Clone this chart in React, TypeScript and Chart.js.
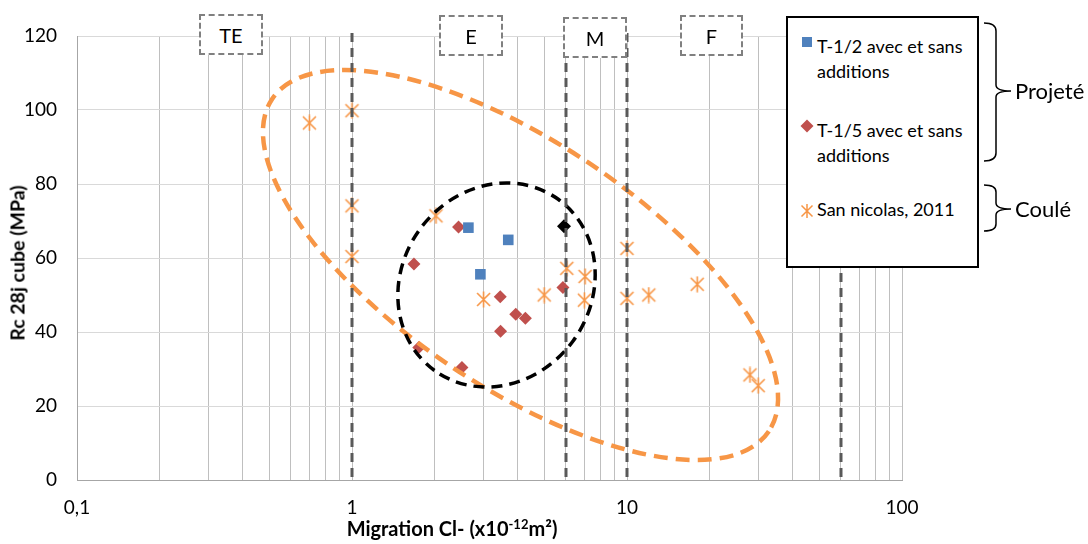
import React, { useEffect, useRef } from "react";
import { Chart, registerables } from "chart.js";

Chart.register(...registerables);

// ---------- data ----------
const seriesNames = ["T-1/2 avec et sans additions", "T-1/5 avec et sans additions", "San nicolas, 2011"];

const t12X = [2.65, 3.7, 2.93];
const t12Y = [68.2, 64.9, 55.6];

const t15X = [2.44, 1.68, 3.46, 5.85, 3.94, 4.27, 3.47, 1.75, 2.51];
const t15Y = [68.4, 58.4, 49.5, 52.0, 44.8, 43.7, 40.2, 35.8, 30.4];

const sanX = [0.7, 1.0, 1.0, 1.0, 2.02, 6.04, 7.04, 10.0, 3.01, 5.0, 7.0, 10.0, 12.0, 18.0, 28.0, 30.0];
const sanY = [96.5, 99.8, 74.1, 60.4, 71.4, 57.2, 55.0, 62.6, 48.8, 50.0, 48.6, 49.1, 50.0, 52.9, 28.4, 25.5];

const blackX = [5.9];
const blackY = [68.6];

const xTickValues = [
  0.1, 0.2, 0.3, 0.4, 0.5, 0.6, 0.7, 0.8, 0.9,
  1, 2, 3, 4, 5, 6, 7, 8, 9,
  10, 20, 30, 40, 50, 60, 70, 80, 90,
  100,
];
const xMajorLabels: Record<string, string> = { "0.1": "0,1", "1": "1", "10": "10", "100": "100" };
const yTickStep = 20;

// class boundaries (vertical dashed lines)
const boundaryX = [1, 6, 10, 60];

// ellipses in data coordinates: center, end of first axis, end of second axis
const orangeEllipse = { center: [4.1, 58.1], axisA: [32.8, 13.2], axisB: [2.314, 30.5] };
const blackEllipse = { center: [3.354, 52.7], axisA: [1.995, 29.6], axisB: [1.766, 67.8] };

const classLabels = ["TE", "E", "M", "F"];
const groupLabels = ["Projeté", "Coulé"];

const BLUE = "#4F81BD";
const RED = "#C0504D";
const ORANGE = "#F79646";
const FONT = "Lato, 'Open Sans', sans-serif";

function zip(xs: number[], ys: number[]) {
  return xs.map((x, i) => ({ x, y: ys[i] }));
}

function makeStar(): HTMLCanvasElement {
  const c = document.createElement("canvas");
  c.width = 17;
  c.height = 17;
  const g = c.getContext("2d")!;
  g.strokeStyle = ORANGE;
  g.lineWidth = 1.6;
  g.beginPath();
  g.moveTo(2, 2);
  g.lineTo(15, 15);
  g.moveTo(15, 2);
  g.lineTo(2, 15);
  g.moveTo(8.5, 0.5);
  g.lineTo(8.5, 16.5);
  g.stroke();
  return c;
}

const overlayPlugin = {
  id: "overlayShapes",
  afterDatasetsDraw(chart: any) {
    const { ctx, chartArea, scales } = chart;
    const xs = scales.x;
    const ys = scales.y;
    const px = (p: number[]) => ({ x: xs.getPixelForValue(p[0]), y: ys.getPixelForValue(p[1]) });
    const drawEll = (e: any, color: string, width: number, dash: number[]) => {
      const c = px(e.center);
      const a = px(e.axisA);
      const b = px(e.axisB);
      const rx = Math.hypot(a.x - c.x, a.y - c.y);
      const ry = Math.hypot(b.x - c.x, b.y - c.y);
      const rot = Math.atan2(a.y - c.y, a.x - c.x);
      ctx.save();
      ctx.strokeStyle = color;
      ctx.lineWidth = width;
      ctx.setLineDash(dash);
      ctx.beginPath();
      ctx.ellipse(c.x, c.y, rx, ry, rot, 0, Math.PI * 2);
      ctx.stroke();
      ctx.restore();
    };
    drawEll(orangeEllipse, ORANGE, 4.5, [14, 8]);
    drawEll(blackEllipse, "#000", 3.5, [11, 7]);

    ctx.save();
    ctx.strokeStyle = "#595959";
    ctx.lineWidth = 3;
    ctx.setLineDash([9, 6]);
    boundaryX.forEach((v) => {
      const x = xs.getPixelForValue(v);
      ctx.beginPath();
      ctx.moveTo(x, chartArea.top - 3);
      ctx.lineTo(x, chartArea.bottom);
      ctx.stroke();
    });
    ctx.restore();
  },
};

const boxStyle = (left: number, top: number, width: number, height: number): React.CSSProperties => ({
  position: "absolute",
  left,
  top,
  width,
  height,
  boxSizing: "border-box",
  border: "2px dashed #808080",
  background: "#fff",
  display: "flex",
  alignItems: "center",
  justifyContent: "center",
  fontSize: 20,
  color: "#000",
});

const boxGeom = [
  [199, 14, 64, 41],
  [439, 15, 64, 41],
  [563, 17, 64, 41],
  [680, 15, 63, 41],
];

export default function App() {
  const ref = useRef<HTMLCanvasElement>(null);

  useEffect(() => {
    if (!ref.current) return;
    const star = makeStar();
    const chart = new Chart(ref.current, {
      type: "scatter",
      data: {
        datasets: [
          {
            label: seriesNames[0],
            data: zip(t12X, t12Y),
            pointStyle: "rect",
            pointRadius: 7.5,
            backgroundColor: BLUE,
            borderColor: BLUE,
            borderWidth: 0,
          },
          {
            label: seriesNames[1],
            data: zip(t15X, t15Y),
            pointStyle: "rectRot",
            pointRadius: 6.5,
            backgroundColor: RED,
            borderColor: RED,
            borderWidth: 0,
          },
          {
            label: seriesNames[2],
            data: zip(sanX, sanY),
            pointStyle: star as any,
            pointRadius: 8,
          },
          {
            label: "",
            data: zip(blackX, blackY),
            pointStyle: "rectRot",
            pointRadius: 7,
            backgroundColor: "#000",
            borderColor: "#000",
            borderWidth: 0,
          },
        ],
      },
      options: {
        responsive: false,
        animation: false,
        layout: { padding: { top: 36, right: 186, bottom: 0, left: 0 } },
        plugins: { legend: { display: false }, tooltip: { enabled: false } },
        scales: {
          x: {
            type: "logarithmic",
            min: 0.1,
            max: 100,
            afterBuildTicks: (s: any) => {
              s.ticks = xTickValues.map((v) => ({ value: v }));
            },
            afterFit: (s: any) => {
              s.height = 64;
            },
            ticks: {
              autoSkip: false,
              maxRotation: 0,
              padding: 16,
              color: "#000",
              font: { family: FONT, size: 19 },
              callback: (v: any) => xMajorLabels[String(Number(v))] ?? "",
            },
            grid: { color: "#BFBFBF", lineWidth: 1, drawTicks: false },
            border: { color: "#A6A6A6", width: 1 },
          },
          y: {
            min: 0,
            max: 120,
            afterFit: (s: any) => {
              s.width = 77;
            },
            ticks: {
              stepSize: yTickStep,
              padding: 20,
              color: "#000",
              font: { family: FONT, size: 19 },
            },
            grid: { color: "#D9D9D9", lineWidth: 1, drawTicks: false },
            border: { color: "#A6A6A6", width: 1 },
          },
        },
      },
      plugins: [overlayPlugin],
    } as any);
    return () => chart.destroy();
  }, []);

  const legendText: React.CSSProperties = { fontSize: 18, lineHeight: "25px", color: "#000", whiteSpace: "nowrap" };

  return (
    <div style={{ position: "fixed", left: 0, top: 0, width: 1088, height: 544, background: "#fff", fontFamily: FONT, overflow: "hidden" }}>
      <canvas ref={ref} width={1088} height={544} style={{ position: "absolute", left: 0, top: 0, display: "block" }} />

      {classLabels.map((t, i) => (
        <div key={t} style={boxStyle(boxGeom[i][0], boxGeom[i][1], boxGeom[i][2], boxGeom[i][3])}>{t}</div>
      ))}

      {/* legend */}
      <div style={{ position: "absolute", left: 786, top: 16, width: 193, height: 252, boxSizing: "border-box", border: "2px solid #000", background: "#fff" }}>
        <div style={{ position: "absolute", left: 14, top: 19, width: 10, height: 10, background: BLUE }} />
        <div style={{ position: "absolute", left: 29, top: 16, ...legendText }}>T-1/2 avec et sans<br />additions</div>
        <svg style={{ position: "absolute", left: 12, top: 101 }} width="14" height="14">
          <polygon points="7,0.5 13.5,7 7,13.5 0.5,7" fill={RED} />
        </svg>
        <div style={{ position: "absolute", left: 29, top: 100, ...legendText }}>T-1/5 avec et sans<br />additions</div>
        <svg style={{ position: "absolute", left: 12, top: 186 }} width="14" height="14">
          <path d="M1.5,1.5 L12.5,12.5 M12.5,1.5 L1.5,12.5 M7,0 L7,14" stroke={ORANGE} strokeWidth="1.5" fill="none" />
        </svg>
        <div style={{ position: "absolute", left: 29, top: 179, ...legendText }}>San nicolas, 2011</div>
      </div>

      {/* braces */}
      <svg style={{ position: "absolute", left: 0, top: 0 }} width="1088" height="544">
        <path d="M984,23 Q996,23 996,31 L996,85 Q996,91 1011,91 Q996,91 996,97 L996,153 Q996,161 984,161" stroke="#000" strokeWidth="1.5" fill="none" />
        <path d="M984,185 Q996,185 996,192 L996,203 Q996,209 1011,209 Q996,209 996,215 L996,224 Q996,231 984,231" stroke="#000" strokeWidth="1.5" fill="none" />
      </svg>
      <div style={{ position: "absolute", left: 1015, top: 77, fontSize: 22, color: "#000", whiteSpace: "nowrap" }}>{groupLabels[0]}</div>
      <div style={{ position: "absolute", left: 1015, top: 195, fontSize: 22, color: "#000", whiteSpace: "nowrap" }}>{groupLabels[1]}</div>

      {/* axis titles */}
      <div style={{ position: "absolute", left: 17, top: 263, transform: "translate(-50%, -50%) rotate(-90deg)", fontSize: 19.5, fontWeight: 700, whiteSpace: "nowrap", color: "#000" }}>
        Rc 28j cube (MPa)
      </div>
      <div style={{ position: "absolute", left: 452, top: 528, transform: "translate(-50%, -50%)", fontSize: 20, fontWeight: 700, whiteSpace: "nowrap", color: "#000" }}>
        Migration Cl- (x10<sup style={{ fontSize: 13, verticalAlign: "7px", lineHeight: 0 }}>-12</sup>m²)
      </div>
    </div>
  );
}
